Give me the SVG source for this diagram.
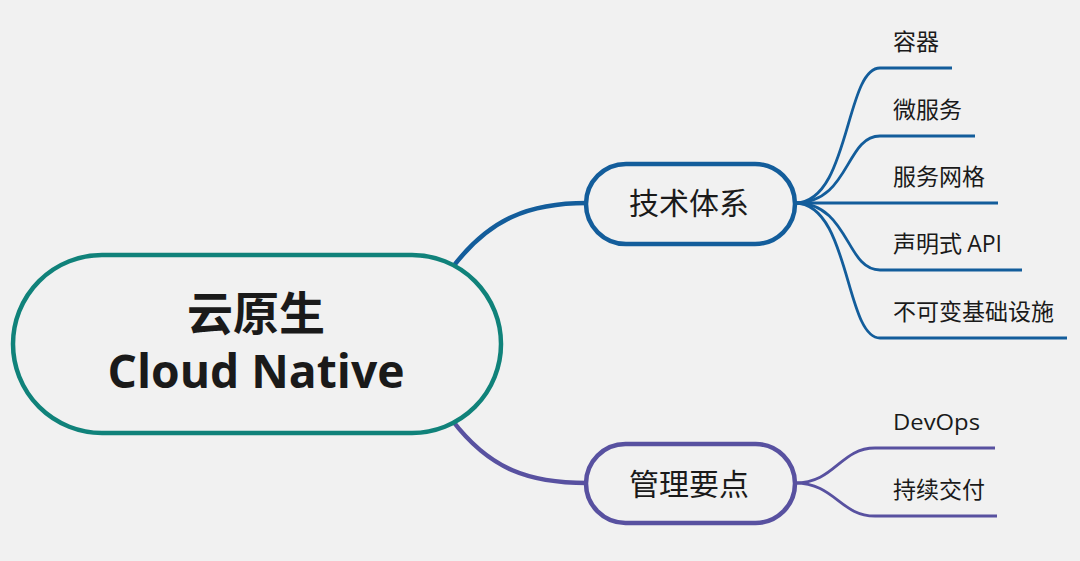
<svg xmlns="http://www.w3.org/2000/svg" width="1080" height="561" viewBox="0 0 1080 561">
<style>
.bg{fill:#f1f1f1}
.node{fill:#f1f1f1;stroke-width:4.5}
.cjk{font-family:"Noto Sans CJK SC","Noto Sans",sans-serif;fill:#1a1a1a}
.lat{font-family:"Open Sans","Noto Sans","Liberation Sans",sans-serif;fill:#1a1a1a}
.leaf{font-size:23px}
.main{fill:none;stroke-width:4.5;stroke-linecap:round}
.sub{fill:none;stroke-width:2.8;stroke-linecap:butt}
.blue{stroke:#135d9b}
.purple{stroke:#5851a0}
.teal{stroke:#10827a}
</style>
<rect class="bg" x="0" y="0" width="1080" height="561"/>
<g id="connectors">
<path class="main blue" d="M452,268 C490,218 530,203 587,203"/>
<path class="main purple" d="M452,420 C490,470 530,483 587,483"/>
<path class="sub blue" d="M795,203 C850,203 845,68 880,68 L952,68"/>
<path class="sub blue" d="M795,203 C850,203 845,136 880,136 L975,136"/>
<path class="sub blue" d="M795,203 L998,203"/>
<path class="sub blue" d="M795,203 C850,203 845,270 880,270 L1022,270"/>
<path class="sub blue" d="M795,203 C850,203 845,338 880,338 L1067,338"/>
<path class="sub purple" d="M795,483 C835,483 840,448 875,448 L995,448"/>
<path class="sub purple" d="M795,483 C835,483 840,516 875,516 L997,516"/>
</g>
<g id="root">
<rect class="node teal" x="13" y="255" width="488" height="178" rx="89" ry="89"/>
<text class="cjk" x="256" y="330" font-size="46" font-weight="700" text-anchor="middle" fill="#111">云原生</text>
<text class="lat" x="256" y="388" font-size="46" font-weight="700" text-anchor="middle" textLength="297" lengthAdjust="spacingAndGlyphs" fill="#111">Cloud Native</text>
</g>
<g id="tech">
<rect class="node blue" x="586" y="164" width="209" height="80" rx="40" ry="40"/>
<text class="cjk" x="689" y="214" font-size="30" text-anchor="middle">技术体系</text>
</g>
<g id="manage">
<rect class="node purple" x="586" y="444" width="209" height="79" rx="39.5" ry="39.5"/>
<text class="cjk" x="689" y="495" font-size="30" text-anchor="middle">管理要点</text>
</g>
<g id="leaf-container"><text class="cjk leaf" x="893" y="50">容器</text></g>
<g id="leaf-microservice"><text class="cjk leaf" x="893" y="118">微服务</text></g>
<g id="leaf-mesh"><text class="cjk leaf" x="893" y="185">服务网格</text></g>
<g id="leaf-api"><text class="cjk leaf" x="893" y="252">声明式 <tspan class="lat">API</tspan></text></g>
<g id="leaf-immutable"><text class="cjk leaf" x="893" y="320">不可变基础设施</text></g>
<g id="leaf-devops"><text class="lat" x="893" y="430" font-size="21" textLength="87" lengthAdjust="spacingAndGlyphs">DevOps</text></g>
<g id="leaf-cd"><text class="cjk leaf" x="893" y="498">持续交付</text></g>
</svg>
